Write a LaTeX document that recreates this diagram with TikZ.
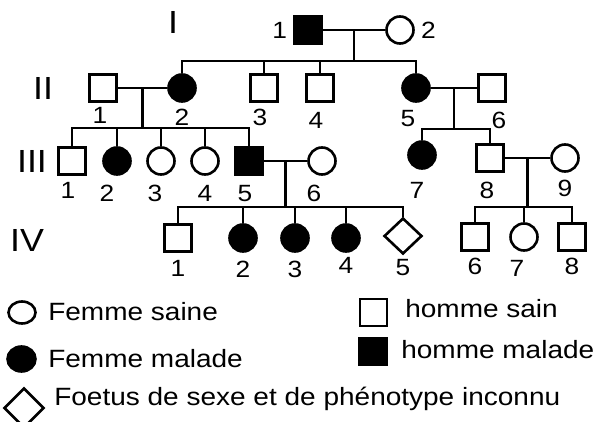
\documentclass[tikz,border=0pt]{standalone}
\usepackage{fontspec}
\setmainfont{Liberation Sans}[FakeStretch=1.12]
\usetikzlibrary{shapes.geometric}

\tikzset{
  male/.style={draw, rectangle, minimum size=27pt, inner sep=0pt},
  female/.style={draw, circle, minimum size=27pt, inner sep=0pt},
  fetus/.style={draw, diamond, minimum width=38pt, minimum height=36pt, inner sep=0pt},
  ill/.style={fill=black},
  num/.style={font=\fontsize{23.5}{24}\selectfont, inner sep=0pt},
  gen/.style={font=\fontsize{32}{32}\selectfont, inner sep=0pt},
  key/.style={font=\fontsize{25}{26}\selectfont, inner sep=0pt, anchor=base west},
}

\begin{document}
\begin{tikzpicture}[x=1pt, y=-1pt, line width=2.6pt, label distance=5pt]
  \useasboundingbox (0,0) rectangle (597,422);

  % generation numbers
  \node[gen] (gI)   at (173,22)  {I};
  \node[gen] (gII)  at (43,88)   {II};
  \node[gen] (gIII) at (32,161)  {III};
  \node[gen] (gIV)  at (27,240)  {IV};

  % generation I
  \node[male, ill, label={[num]left:1}] (I1) at (308,30) {};
  \node[female, label={[num]right:2}]   (I2) at (400,30) {};

  % generation II
  \node[male, label={[num, xshift=-3pt, label distance=3pt]below:1}] (II1) at (103,88) {};
  \node[female, ill, label={[num]below:2}]                            (II2) at (182,88) {};
  \node[male, label={[num, xshift=-4pt]below:3}]                      (II3) at (264,88) {};
  \node[male, label={[num, xshift=-4pt, label distance=8pt]below:4}]  (II4) at (320,88) {};
  \node[female, ill, label={[num, xshift=-8pt, label distance=6pt]below:5}] (II5) at (416,88) {};
  \node[male, label={[num, xshift=7pt, label distance=8pt]below:6}]   (II6) at (492,88) {};

  % generation III
  \begin{scope}[label distance=8pt]
    \node[male, label={[num, xshift=-4pt, label distance=5pt]below:1}] (III1) at (72,161) {};
    \node[female, ill, label={[num, xshift=-10pt]below:2}]             (III2) at (117,161) {};
    \node[female, label={[num, xshift=-6pt]below:3}]                   (III3) at (161,161) {};
    \node[female, label={[num]below:4}]                                (III4) at (205,161) {};
    \node[male, ill, label={[num, xshift=-4pt]below:5}]                (III5) at (249,161) {};
    \node[female, label={[num, xshift=-8pt]below:6}]                   (III6) at (322,161) {};
    \node[female, ill, label={[num, xshift=-5pt, label distance=11pt]below:7}] (III7) at (422,155) {};
    \node[male, label={[num, xshift=-3pt]below:8}]                     (III8) at (490,158) {};
    \node[female, label={[num, label distance=6pt]below:9}]            (III9) at (565,158) {};
  \end{scope}

  % generation IV
  \node[male, label={[num, label distance=6.5pt]below:1}]       (IV1) at (178,238) {};
  \node[female, ill, label={[num, label distance=6.5pt]below:2}] (IV2) at (243,238) {};
  \node[female, ill, label={[num, label distance=6.5pt]below:3}] (IV3) at (295,238) {};
  \node[female, ill, label={[num, label distance=3pt]below:4}]   (IV4) at (346,238) {};
  \node[fetus, label={[num, label distance=3pt]below:5}]         (IV5) at (403,236) {};
  \node[male, label={[num]below:6}]                              (IV6) at (475,237) {};
  \node[female, label={[num, xshift=-7pt, label distance=7.5pt]below:7}] (IV7) at (524,237) {};
  \node[male, label={[num]below:8}]                              (IV8) at (572,237) {};

  % couples and sibships
  \draw (I1) -- coordinate (mI) (I2);
  \draw (mI) -- ++(0,31) coordinate (sI);
  \draw (II2) |- (sI) -| (II5);
  \foreach \c in {II3,II4} \draw (\c) -- (\c |- sI);

  \draw (II1) -- coordinate (mIIa) (II2);
  \draw (mIIa) -- ++(0,40) coordinate (sIIa);
  \draw (III1) |- (sIIa) -| (III5);
  \foreach \c in {III2,III3,III4} \draw (\c) -- (\c |- sIIa);

  \draw (II5) -- coordinate (mIIb) (II6);
  \draw (mIIb) -- ++(0,41) coordinate (sIIb);
  \draw (III7) |- (sIIb) -| (III8);

  \draw (III5) -- coordinate (mIIIa) (III6);
  \draw (mIIIa) -- ++(0,46) coordinate (sIIIa);
  \draw (IV1) |- (sIIIa) -| (IV5);
  \foreach \c in {IV2,IV3,IV4} \draw (\c) -- (\c |- sIIIa);

  \draw (III8) -- coordinate (mIIIb) (III9);
  \draw (mIIIb) -- ++(0,49) coordinate (sIIIb);
  \draw (IV6) |- (sIIIb) -| (IV8);
  \draw (IV7) -- (IV7 |- sIIIb);

  % key
  \node[female, ellipse, minimum width=27pt, minimum height=22pt] (kF) at (22,312.5) {};
  \node[key] (tF) at (47,320) {Femme saine};
  \node[female, ill, ellipse, minimum width=28pt, minimum height=25pt] (kFi) at (21.5,359) {};
  \node[key] (tFi) at (47,367) {Femme malade};
  \node[fetus, minimum width=40pt, minimum height=40pt] (kX) at (24,408) {};
  \node[key] (tX) at (53,405) {Foetus de sexe et de phénotype inconnu};
  \node[male] (kM) at (373.5,312.5) {};
  \node[key] (tM) at (404,317) {homme sain};
  \node[male, ill] (kMi) at (373,351.5) {};
  \node[key] (tMi) at (400,358) {homme malade};
\end{tikzpicture}
\end{document}
